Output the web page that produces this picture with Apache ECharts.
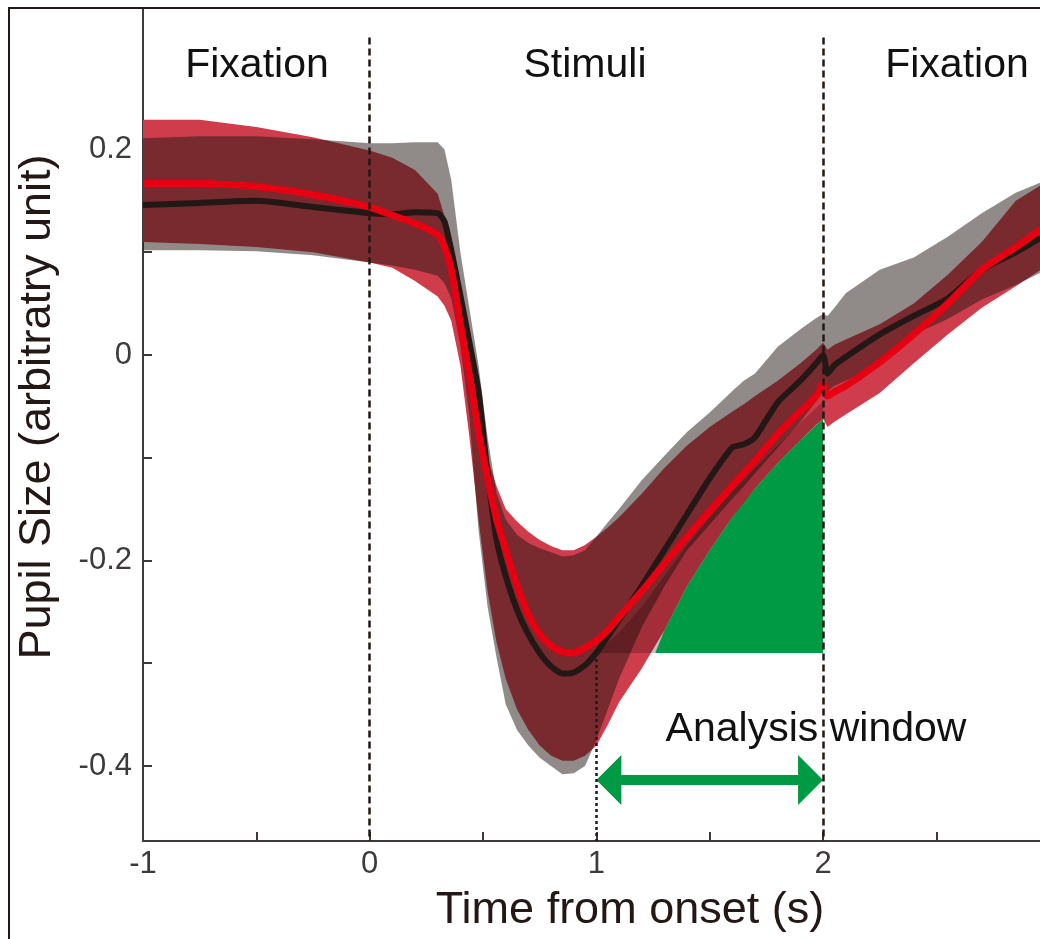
<!DOCTYPE html>
<html>
<head>
<meta charset="utf-8">
<title>Pupil size</title>
<script src="https://cdn.jsdelivr.net/npm/echarts@6/dist/echarts.min.js"></script>
</head>
<body style="margin:0">
<div id="main" style="width:1040px;height:939px"></div>
<script>
// time axis (s), shared by every curve and band
var times = [-1, -0.75, -0.5, -0.25, 0, 0.1, 0.2, 0.3, 0.33, 0.36, 0.4, 0.44, 0.48, 0.52, 0.56, 0.6, 0.65, 0.7, 0.75, 0.8, 0.85, 0.9, 0.95, 1.0, 1.05, 1.1, 1.2, 1.3, 1.4, 1.5, 1.6, 1.65, 1.7, 1.8, 1.9, 1.97, 2.0, 2.02, 2.05, 2.1, 2.25, 2.4, 2.55, 2.7, 2.85, 2.96];

// group 1 (black mean, grey band)
var blackMean = [0.146, 0.148, 0.150, 0.144, 0.138, 0.137, 0.139, 0.138, 0.130, 0.102, 0.058, 0.012, -0.035, -0.115, -0.180, -0.215, -0.248, -0.272, -0.290, -0.303, -0.310, -0.309, -0.302, -0.290, -0.274, -0.258, -0.225, -0.190, -0.155, -0.120, -0.090, -0.087, -0.080, -0.046, -0.025, -0.008, 0.000, -0.018, -0.010, -0.002, 0.020, 0.038, 0.055, 0.083, 0.100, 0.114];
var greyUpper = [0.211, 0.213, 0.213, 0.210, 0.206, 0.206, 0.207, 0.207, 0.200, 0.170, 0.100, 0.045, -0.010, -0.080, -0.135, -0.160, -0.175, -0.183, -0.188, -0.192, -0.196, -0.195, -0.190, -0.177, -0.163, -0.150, -0.122, -0.098, -0.075, -0.056, -0.035, -0.025, -0.018, 0.008, 0.025, 0.036, 0.040, 0.038, 0.046, 0.060, 0.083, 0.095, 0.115, 0.138, 0.158, 0.168];
var greyLower = [0.102, 0.102, 0.101, 0.097, 0.090, 0.087, 0.083, 0.077, 0.070, 0.055, 0.010, -0.060, -0.170, -0.245, -0.295, -0.340, -0.365, -0.380, -0.392, -0.400, -0.408, -0.407, -0.400, -0.375, -0.345, -0.315, -0.265, -0.225, -0.190, -0.165, -0.140, -0.128, -0.115, -0.090, -0.065, -0.045, -0.035, -0.035, -0.030, -0.025, -0.008, 0.020, 0.035, 0.054, 0.068, 0.080];

// group 2 (red mean, red band)
var redMean = [0.167, 0.167, 0.164, 0.156, 0.144, 0.136, 0.128, 0.117, 0.105, 0.083, 0.030, -0.020, -0.075, -0.120, -0.160, -0.190, -0.225, -0.253, -0.272, -0.283, -0.289, -0.290, -0.285, -0.278, -0.268, -0.255, -0.230, -0.203, -0.177, -0.152, -0.127, -0.115, -0.103, -0.077, -0.055, -0.040, -0.028, -0.040, -0.036, -0.030, -0.007, 0.020, 0.050, 0.083, 0.105, 0.122];
var redUpper = [0.229, 0.229, 0.222, 0.212, 0.199, 0.192, 0.180, 0.157, 0.135, 0.110, 0.060, 0.000, -0.055, -0.100, -0.128, -0.150, -0.162, -0.172, -0.180, -0.186, -0.190, -0.190, -0.185, -0.177, -0.168, -0.158, -0.135, -0.110, -0.088, -0.070, -0.055, -0.048, -0.040, -0.025, -0.008, 0.005, 0.012, 0.005, 0.010, 0.015, 0.030, 0.050, 0.078, 0.110, 0.150, 0.165];
var redLower = [0.110, 0.108, 0.105, 0.100, 0.090, 0.085, 0.072, 0.057, 0.048, 0.033, -0.010, -0.080, -0.160, -0.230, -0.280, -0.315, -0.345, -0.365, -0.380, -0.390, -0.395, -0.395, -0.390, -0.380, -0.360, -0.338, -0.305, -0.268, -0.225, -0.190, -0.158, -0.145, -0.130, -0.105, -0.083, -0.068, -0.062, -0.070, -0.065, -0.058, -0.037, -0.008, 0.020, 0.046, 0.067, 0.083];

// analysis window area (green) and the dark shading beside it
var greenX = [1.26, 1.3, 1.4, 1.5, 1.6, 1.7, 1.8, 1.9, 2.0];
var greenTop = [-0.29, -0.268, -0.225, -0.19, -0.158, -0.13, -0.105, -0.083, -0.062];
var shadeX = [1.0, 1.1, 1.2, 1.3, 1.4, 1.5, 1.6, 1.7, 1.8, 1.9, 2.0];
var shadeTop = [-0.29, -0.27, -0.245, -0.215, -0.185, -0.158, -0.133, -0.11, -0.088, -0.066, -0.045];
var areaBase = -0.29;

// arrow under "Analysis window": [from, to, level]
var arrowSpan = [1, 2, -0.4136];

// event markers
var onsetLines = [0, 2];
var windowStart = 1;

var yTicks = [-0.4, -0.3, -0.2, -0.1, 0, 0.1, 0.2];
var yLabels = [-0.4, -0.2, 0, 0.2];
var xTicks = [-1, -0.5, 0, 0.5, 1, 1.5, 2, 2.5];
var xLabels = [-1, 0, 1, 2];

var FONT = '"Liberation Sans", Arial, Helvetica, sans-serif';
var INK = '#231815';

function pairs(xs, ys) {
  return xs.map(function (x, i) { return [x, ys[i]]; });
}

// filled band between lower and upper, drawn as one polygon through the axes
function band(xs, lower, upper, fill, opacity) {
  var lowAt = function (i) { return Array.isArray(lower) ? lower[i] : lower; };
  return {
    type: 'custom', silent: true,
    data: xs.map(function (x, i) { return [x, lowAt(i), upper[i]]; }),
    encode: { x: 0, y: [1, 2] },
    renderItem: function (params, api) {
      if (params.dataIndex !== 0) return null;
      var pts = [], i;
      for (i = 0; i < xs.length; i++) pts.push(api.coord([xs[i], upper[i]]));
      for (i = xs.length - 1; i >= 0; i--) pts.push(api.coord([xs[i], lowAt(i)]));
      var cs = params.coordSys;
      return {
        type: 'polygon',
        shape: { points: pts },
        style: { fill: fill, opacity: opacity },
        clipPath: { type: 'rect', shape: { x: cs.x, y: cs.y, width: cs.width, height: cs.height } }
      };
    }
  };
}

var myChart = echarts.init(document.getElementById('main'));

var markLines = onsetLines.map(function (x) {
  return [{ coord: [x, 0.309] }, { coord: [x, -0.473] }];
});
markLines.push([{ coord: [windowStart, areaBase], lineStyle: { type: [3, 3] } }, { coord: [windowStart, -0.473] }]);

var series = [
  band(times, redLower, redUpper, '#cf3d4d', 1),
  band(times, greyLower, greyUpper, '#211711', 0.5),
  band(shadeX, areaBase, shadeTop, '#200000', 0.25),
  band(greenX, areaBase, greenTop, '#009944', 1),
  { type: 'line', symbol: 'none', silent: true, z: 3, smooth: 0.2, data: pairs(times, blackMean),
    lineStyle: { color: INK, width: 6 },
    markLine: { silent: true, symbol: 'none', label: { show: false },
      lineStyle: { color: INK, width: 2.5, type: [7, 4] }, data: markLines } },
  { type: 'line', symbol: 'none', silent: true, z: 3, smooth: 0.2, data: pairs(times, redMean),
    lineStyle: { color: '#e60012', width: 7 } },
  { type: 'custom', silent: true, z: 4, data: [arrowSpan], encode: { x: [0, 1], y: 2 },
    renderItem: function (params, api) {
      var a = api.coord([api.value(0), api.value(2)]);
      var b = api.coord([api.value(1), api.value(2)]);
      var hl = 25, hh = 25, sh = 5;
      return {
        type: 'polygon',
        shape: { points: [
          [a[0], a[1]], [a[0] + hl, a[1] - hh], [a[0] + hl, a[1] - sh],
          [b[0] - hl, b[1] - sh], [b[0] - hl, b[1] - hh], [b[0], b[1]],
          [b[0] - hl, b[1] + hh], [b[0] - hl, b[1] + sh],
          [a[0] + hl, a[1] + sh], [a[0] + hl, a[1] + hh]
        ] },
        style: { fill: '#009944' }
      };
    } }
];

var option = {
  animation: false,
  backgroundColor: '#ffffff',
  grid: { left: 143, right: 0, top: 8, bottom: 98, outerBoundsMode: 'none' },
  xAxis: {
    type: 'value', min: -1, max: 2.957,
    axisLine: { onZero: false, lineStyle: { color: '#3e3a39', width: 2 } },
    axisTick: { inside: true, length: 9, customValues: xTicks, lineStyle: { color: '#3e3a39', width: 2 } },
    axisLabel: { customValues: xLabels, fontSize: 31, fontFamily: FONT, color: '#3e3a39', margin: 8 },
    splitLine: { show: false }
  },
  yAxis: {
    type: 'value', min: -0.473, max: 0.3377,
    axisLine: { show: true, onZero: false, lineStyle: { color: '#3e3a39', width: 2 } },
    axisTick: { show: true, inside: true, length: 9, customValues: yTicks, lineStyle: { color: '#3e3a39', width: 2 } },
    axisLabel: { customValues: yLabels, fontSize: 31, fontFamily: FONT, color: '#3e3a39', margin: 11,
      formatter: function (v) { return v === 0 ? '0' : String(Math.round(v * 10) / 10); } },
    splitLine: { show: false }
  },
  graphic: [
    { type: 'rect', silent: true, z: 100, shape: { x: 9, y: 8, width: 1200, height: 1100 },
      style: { fill: 'none', stroke: INK, lineWidth: 2 } },
    { type: 'text', z: 10, x: 257, y: 66, style: { text: 'Fixation', font: '41px ' + FONT, fill: '#111', align: 'center', verticalAlign: 'middle' } },
    { type: 'text', z: 10, x: 585, y: 66, style: { text: 'Stimuli', font: '41px ' + FONT, fill: '#111', align: 'center', verticalAlign: 'middle' } },
    { type: 'text', z: 10, x: 957, y: 66, style: { text: 'Fixation', font: '41px ' + FONT, fill: '#111', align: 'center', verticalAlign: 'middle' } },
    { type: 'text', z: 10, x: 816, y: 730, style: { text: 'Analysis window', font: '41px ' + FONT, fill: '#111', align: 'center', verticalAlign: 'middle' } },
    { type: 'text', z: 10, x: 630, y: 911, style: { text: 'Time from onset (s)', font: '45px ' + FONT, fill: INK, align: 'center', verticalAlign: 'middle' } },
    { type: 'text', z: 10, x: 38, y: 407, rotation: Math.PI / 2, style: { text: 'Pupil Size (arbitratry unit)', font: '45px ' + FONT, fill: INK, align: 'center', verticalAlign: 'middle' } }
  ],
  series: series
};

myChart.setOption(option);
</script>
</body>
</html>
